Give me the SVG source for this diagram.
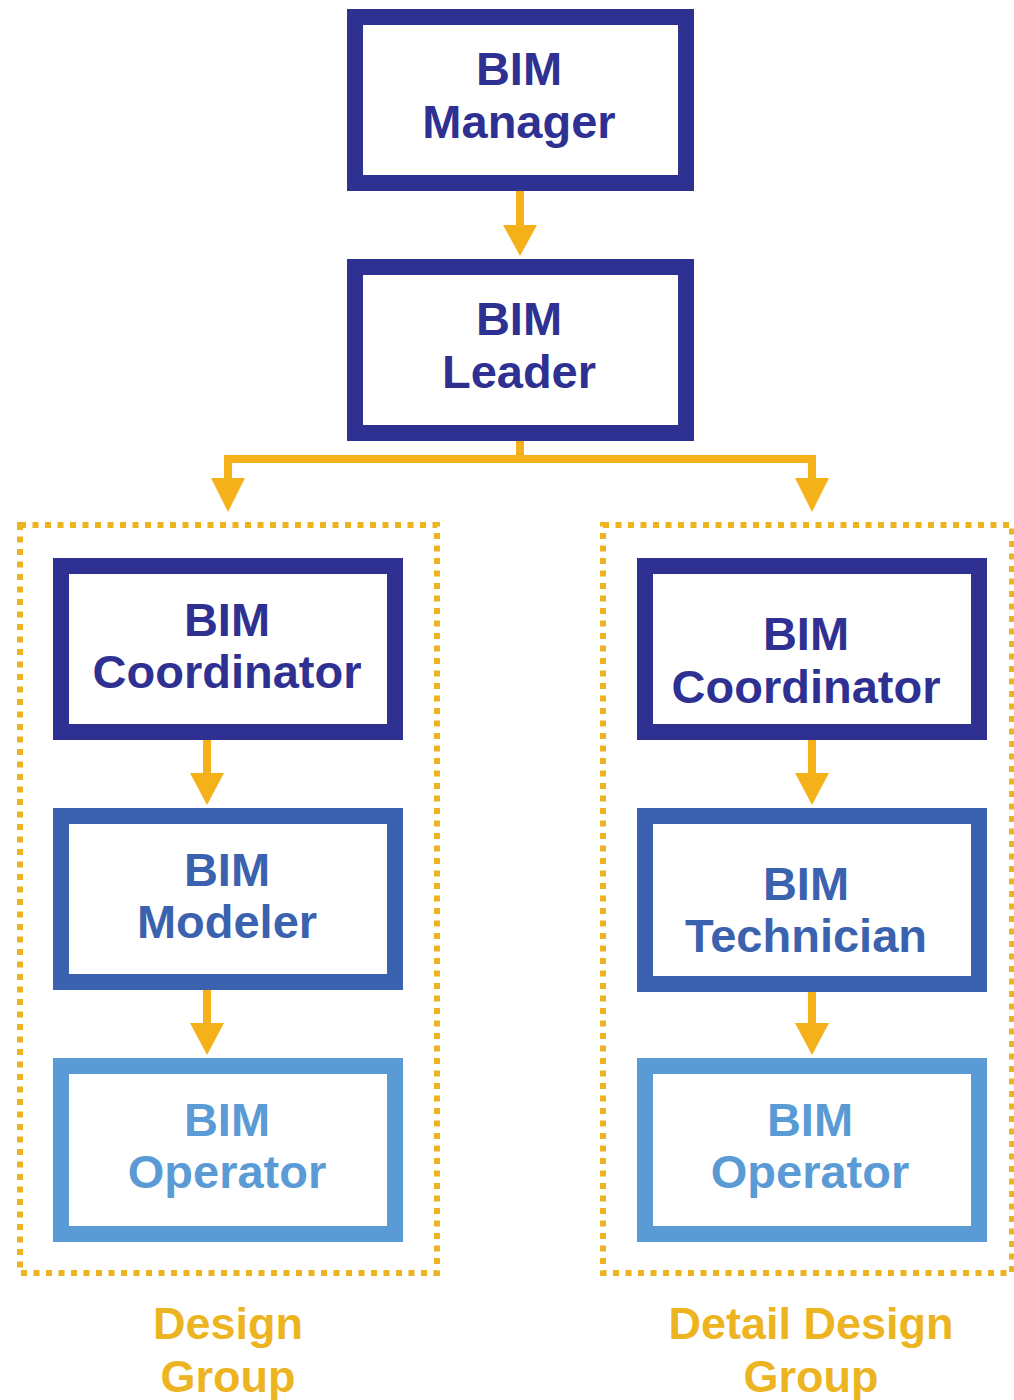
<svg xmlns="http://www.w3.org/2000/svg" width="1014" height="1400" viewBox="0 0 1014 1400">
<style>
.box{fill:#fff;stroke-width:16}
.d{stroke:#2E3192}
.m{stroke:#3B62AE}
.l{stroke:#5B9BD5}
.t{font-family:"Liberation Sans",Arial,sans-serif;font-weight:bold;font-size:47px;text-anchor:middle}
.td{fill:#2E3192}
.tm{fill:#3B62AE}
.tl{fill:#5B9BD5}
.grp{fill:none;stroke:#EDB422;stroke-width:6;stroke-dasharray:6 6.5}
.lab{font-family:"Liberation Sans",Arial,sans-serif;font-weight:bold;font-size:45px;text-anchor:middle;fill:#EDB422}
.c{fill:none;stroke:#F4B11A;stroke-width:8}
.ah{fill:#F4B11A}
</style>
<rect width="1014" height="1400" fill="#fff"/>
<g id="groups">
<rect id="design-group" class="grp" x="20" y="525" width="417" height="748"/>
<rect id="detail-design-group" class="grp" x="603" y="525" width="409" height="748"/>
</g>
<g id="connectors">
<path class="c" d="M520,191 V225"/>
<path class="ah" d="M503,225 L537,225 L520,256 Z"/>
<path class="c" d="M520,441 V459 M228,459 H812 M228,455 V480 M812,455 V480"/>
<path class="ah" d="M211,478 L245,478 L228,512 Z"/>
<path class="ah" d="M795,478 L829,478 L812,512 Z"/>
<path class="c" d="M207,740 V775 M207,990 V1025 M812,740 V775 M812,992 V1025"/>
<path class="ah" d="M190,773 L224,773 L207,805 Z M190,1023 L224,1023 L207,1055 Z M795,773 L829,773 L812,805 Z M795,1023 L829,1023 L812,1055 Z"/>
</g>
<g id="bim-manager">
<rect class="box d" x="355" y="17" width="331" height="166"/>
<text class="t td" x="519" y="85">BIM</text>
<text class="t td" x="519" y="138">Manager</text>
</g>
<g id="bim-leader">
<rect class="box d" x="355" y="267" width="331" height="166"/>
<text class="t td" x="519" y="335">BIM</text>
<text class="t td" x="519" y="388">Leader</text>
</g>
<g id="bim-coordinator-design">
<rect class="box d" x="61" y="566" width="334" height="166"/>
<text class="t td" x="227" y="636">BIM</text>
<text class="t td" x="227" y="688">Coordinator</text>
</g>
<g id="bim-modeler">
<rect class="box m" x="61" y="816" width="334" height="166"/>
<text class="t tm" x="227" y="886">BIM</text>
<text class="t tm" x="227" y="938">Modeler</text>
</g>
<g id="bim-operator-design">
<rect class="box l" x="61" y="1066" width="334" height="168"/>
<text class="t tl" x="227" y="1136">BIM</text>
<text class="t tl" x="227" y="1188">Operator</text>
</g>
<g id="bim-coordinator-detail">
<rect class="box d" x="645" y="566" width="334" height="166"/>
<text class="t td" x="806" y="650">BIM</text>
<text class="t td" x="806" y="703">Coordinator</text>
</g>
<g id="bim-technician">
<rect class="box m" x="645" y="816" width="334" height="168"/>
<text class="t tm" x="806" y="900">BIM</text>
<text class="t tm" x="806" y="952">Technician</text>
</g>
<g id="bim-operator-detail">
<rect class="box l" x="645" y="1066" width="334" height="168"/>
<text class="t tl" x="810" y="1136">BIM</text>
<text class="t tl" x="810" y="1188">Operator</text>
</g>
<g id="labels">
<text class="lab" x="228" y="1339">Design</text>
<text class="lab" x="228" y="1392">Group</text>
<text class="lab" x="811" y="1339">Detail Design</text>
<text class="lab" x="811" y="1392">Group</text>
</g>
</svg>
